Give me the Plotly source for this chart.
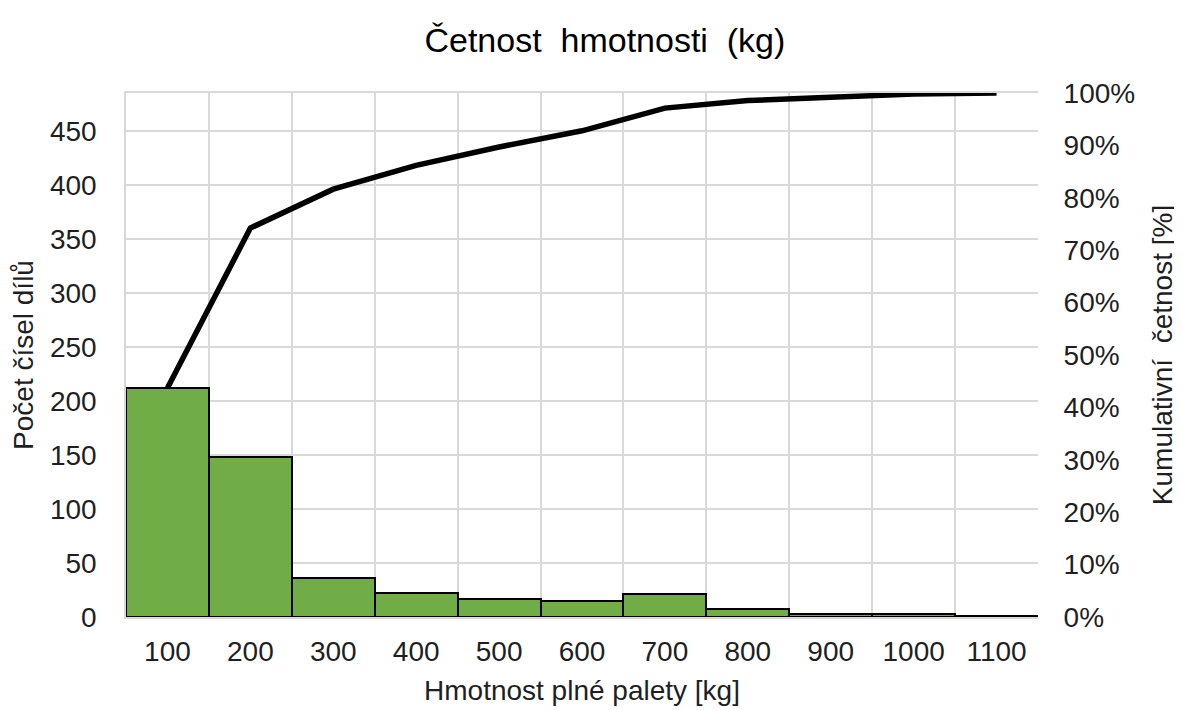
import plotly.graph_objects as go

categories = ["100", "200", "300", "400", "500", "600", "700", "800", "900", "1000", "1100"]
counts = [212, 148, 36, 22, 17, 15, 21, 7, 3, 3, 1]

total = sum(counts)
cum = []
s = 0
for c in counts:
    s += c
    cum.append(s / total)

FONT = "Liberation Sans, Arial, sans-serif"
TXT = "#1f1f1f"
GRID = "#d9d9d9"

fig = go.Figure()
fig.add_trace(go.Bar(
    x=categories, y=counts,
    marker=dict(color="#70AD47", line=dict(color="black", width=2)),
    yaxis="y", showlegend=False,
))
fig.add_trace(go.Scatter(
    x=categories, y=cum, mode="lines",
    line=dict(color="black", width=5.5),
    yaxis="y2", showlegend=False,
))

fig.update_layout(
    width=1182, height=710,
    margin=dict(l=118, r=152, t=85, b=101, autoexpand=False),
    paper_bgcolor="white", plot_bgcolor="white",
    bargap=0,
    font=dict(family=FONT, size=28, color=TXT),
    title=dict(text="Četnost\u00a0 hmotnosti\u00a0 (kg)", x=0.505, xanchor="center",
               y=0.955, yanchor="middle", font=dict(size=34, color="black")),
    xaxis=dict(
        type="category", tickson="boundaries", showgrid=True,
        gridcolor=GRID, gridwidth=1.5,
        showline=True, linecolor=GRID, linewidth=1.5, mirror=True,
        ticks="", ticklabelstandoff=9,
        range=[-0.5, 10.5], automargin=True,
        tickfont=dict(size=28, color=TXT),
        title=dict(text="Hmotnost plné palety [kg]", standoff=14,
                   font=dict(size=28, color=TXT)),
    ),
    yaxis=dict(
        range=[0, total], tick0=0, dtick=50, showgrid=True,
        gridcolor=GRID, gridwidth=1.5, zeroline=False,
        showline=True, linecolor=GRID, linewidth=1.5,
        ticks="outside", ticklen=22, tickcolor="rgba(0,0,0,0)",
        automargin=True,
        tickfont=dict(size=28, color=TXT),
        title=dict(text="Počet čísel dílů", standoff=8,
                   font=dict(size=28, color=TXT)),
    ),
    yaxis2=dict(
        overlaying="y", side="right", range=[0, 1],
        tick0=0, dtick=0.1, tickformat=".0%", showgrid=False,
        zeroline=False, automargin=True,
        ticks="outside", ticklen=19, tickcolor="rgba(0,0,0,0)",
        tickfont=dict(size=28, color=TXT),
        title=dict(text="Kumulativní\u00a0 četnost [%]", standoff=18,
                   font=dict(size=28, color=TXT)),
    ),
)

fig.write_html("out.html")
